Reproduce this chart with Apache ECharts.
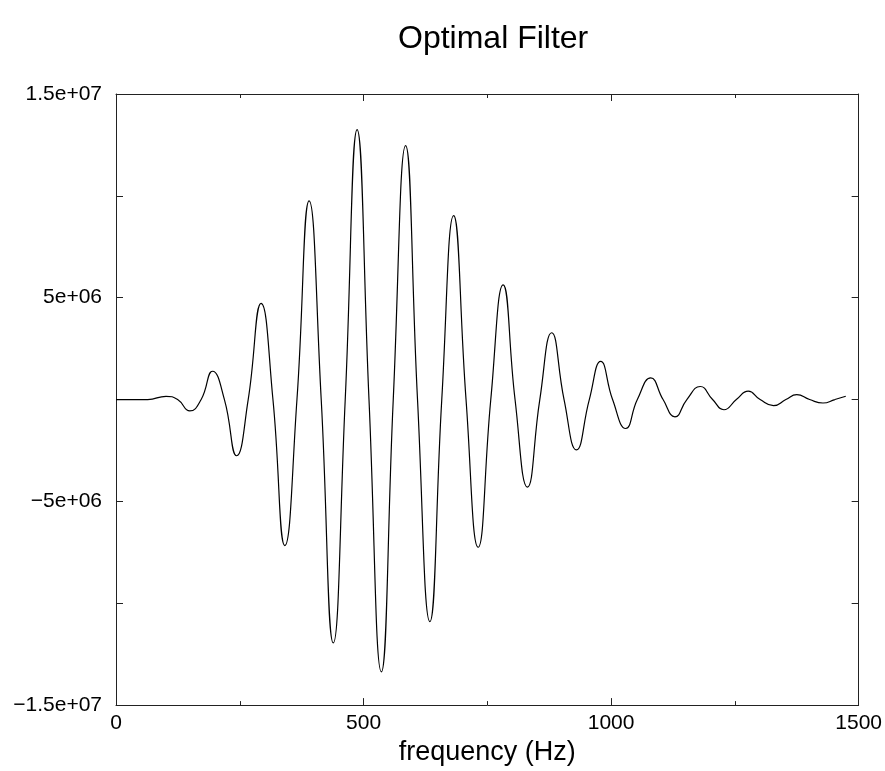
<!DOCTYPE html>
<html>
<head>
<meta charset="utf-8">
<script src="https://cdn.jsdelivr.net/npm/echarts@6/dist/echarts.min.js"></script>
<style>
html,body{margin:0;padding:0;background:#fff;overflow:hidden;}
#chart{width:885px;height:771px;}
</style>
</head>
<body>
<div id="chart"></div>
<script>
// ---- data (frequency in Hz, filter value) ----
var freqHz = [0, 64, 101, 124.5, 149, 172, 195, 219, 243.6, 267, 293, 317, 341, 365.5,
  390, 414.5, 438.8, 463, 487, 511, 536, 560, 585, 609, 634, 658, 682, 707, 731.5, 757,
  782, 806, 831, 856, 880, 905, 930, 956, 979, 1003, 1029.5, 1053, 1080, 1105, 1129, 1153,
  1180, 1205, 1228, 1253, 1277, 1301, 1328, 1353, 1375, 1401, 1428, 1452, 1474];
var filterValue = [0, 0, 1.6e5, 0, -5.6e5, 0, 1.39e6, 0, -2.76e6, 0, 4.72e6, 0, -7.17e6, 0,
  9.75e6, 0, -1.195e7, 0, 1.325e7, 0, -1.337e7, 0, 1.247e7, 0, -1.09e7, 0, 9.03e6, 0, -7.25e6, 0,
  5.63e6, 0, -4.3e6, 0, 3.28e6, 0, -2.47e6, 0, 1.87e6, 0, -1.42e6, 0, 1.06e6, 0, -8.5e5, 0,
  6.4e5, 0, -5.0e5, 0, 4.1e5, 0, -3.0e5, 0, 2.4e5, 0, -1.7e5, 0, 1.6e5];

var xTickValues = [0, 500, 1000, 1500];
var xTickLabels = ['0', '500', '1000', '1500'];
var yTickValues = [-1.5e7, -5e6, 5e6, 1.5e7];
var yTickLabels = ['\u22121.5e+07', '\u22125e+06', '5e+06', '1.5e+07'];

var titleText = 'Optimal Filter';
var xAxisName = 'frequency (Hz)';

// ---- build chart ----
var seriesData = freqHz.map(function (f, i) { return [f, filterValue[i]]; });

function labelFor(values, labels) {
  return function (v) {
    for (var i = 0; i < values.length; i++) {
      if (Math.abs(values[i] - v) < 1e-6 * Math.max(1, Math.abs(v))) return labels[i];
    }
    return '';
  };
}

var FONT = '"Liberation Sans", Arial, Helvetica, sans-serif';
var axisLineStyle = { color: '#222', width: 1 };

var chart = echarts.init(document.getElementById('chart'), null, { renderer: 'canvas' });
chart.setOption({
  animation: false,
  backgroundColor: '#ffffff',
  title: {
    text: titleText,
    left: 393,
    top: 18,
    textStyle: { fontFamily: FONT, fontSize: 32, fontWeight: 'normal', color: '#000' }
  },
  grid: { left: 116, right: 26, top: 94, bottom: 60, containLabel: false },
  xAxis: [{
    type: 'value', position: 'bottom', min: 0, max: 1500, interval: 500,
    name: xAxisName, nameLocation: 'middle', nameGap: 30,
    nameTextStyle: { fontFamily: FONT, fontSize: 27, color: '#000' },
    axisLine: { show: true, onZero: false, lineStyle: axisLineStyle },
    axisTick: { show: true, inside: true, length: 7, lineStyle: axisLineStyle },
    minorTick: { show: true, splitNumber: 2, length: 4, lineStyle: axisLineStyle },
    splitLine: { show: false },
    axisLabel: { margin: 8, fontFamily: FONT, fontSize: 21, color: '#000',
      formatter: labelFor(xTickValues, xTickLabels) }
  }, {
    type: 'value', position: 'top', min: 0, max: 1500, interval: 500,
    axisLine: { show: true, onZero: false, lineStyle: axisLineStyle },
    axisTick: { show: true, inside: true, length: 7, lineStyle: axisLineStyle },
    minorTick: { show: true, splitNumber: 2, length: 4, lineStyle: axisLineStyle },
    splitLine: { show: false },
    axisLabel: { show: false }
  }],
  yAxis: [{
    type: 'value', position: 'left', min: -1.5e7, max: 1.5e7, interval: 5e6,
    axisLine: { show: true, onZero: false, lineStyle: axisLineStyle },
    axisTick: { show: true, inside: true, length: 7, lineStyle: axisLineStyle },
    splitLine: { show: false },
    axisLabel: { margin: 14, fontFamily: FONT, fontSize: 21, color: '#000',
      formatter: labelFor(yTickValues, yTickLabels) }
  }, {
    type: 'value', position: 'right', min: -1.5e7, max: 1.5e7, interval: 5e6,
    axisLine: { show: true, onZero: false, lineStyle: axisLineStyle },
    axisTick: { show: true, inside: true, length: 7, lineStyle: axisLineStyle },
    splitLine: { show: false },
    axisLabel: { show: false }
  }],
  series: [{
    type: 'line',
    xAxisIndex: 0, yAxisIndex: 0,
    data: seriesData,
    smooth: 0.5,
    showSymbol: false,
    symbol: 'none',
    lineStyle: { color: '#000', width: 1.2 }
  }]
});
</script>
</body>
</html>
